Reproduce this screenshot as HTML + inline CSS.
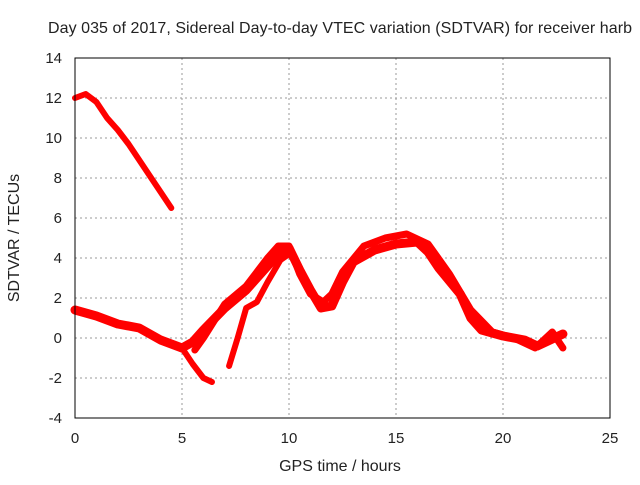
<!DOCTYPE html>
<html><head><meta charset="utf-8"><style>
body{margin:0;background:#fff}
text{font-family:"Liberation Sans",sans-serif;font-size:15px;fill:#222}
.big{font-size:16px}
</style></head><body>
<svg id="c" width="640" height="480">
<rect width="640" height="480" fill="#fff"/>
<text class="big" x="340" y="33" text-anchor="middle" textLength="584">Day 035 of 2017, Sidereal Day-to-day VTEC variation (SDTVAR) for receiver harb</text>
<text class="big" x="340" y="471" text-anchor="middle">GPS time / hours</text>
<text class="big" transform="translate(19,238) rotate(-90)" text-anchor="middle">SDTVAR / TECUs</text>
<g id="grid"></g><g id="series"></g>
<rect x="75" y="58" width="535" height="360" fill="none" stroke="#000"/>
</svg>
<script>
const xTicks=[0,5,10,15,20,25];
const yTicks=[-4,-2,0,2,4,6,8,10,12,14];
const seriesHigh=[[0,12],[0.5,12.2],[1,11.8],[1.5,11],[2,10.4],[2.5,9.7],[3,8.9],[3.5,8.1],[4,7.3],[4.5,6.5]];
const seriesMain=[[0,1.4],[1,1.1],[2,0.7],[3,0.5],[4,-0.1],[5,-0.5],[5.5,-0.2],[6,0.4],[7,1.5],[8,2.4],[9,3.6],[9.6,4.3],[10,4.5],[10.5,3.4],[11,2.4],[11.5,1.5],[12,1.6],[12.5,2.8],[13,3.8],[14,4.4],[15,4.7],[16,4.8],[16.5,4.3],[17,3.5],[18,2.2],[18.5,1.0],[19,0.4],[20,0.1],[21,-0.1],[21.6,-0.4],[22.2,-0.1],[22.8,0.2]];
const seriesUpper=[[5.6,-0.6],[6,0],[7,1.7],[8,2.6],[9,4.0],[9.5,4.6],[10,4.6],[10.5,3.2],[11,2.2],[11.6,1.8],[12,2.2],[12.5,3.3],[13.5,4.6],[14.5,5.0],[15.5,5.2],[16.5,4.7],[17.5,3.2],[18.5,1.4],[19.5,0.3],[20.5,0],[21.5,-0.5],[22.3,0.3],[22.8,-0.5]];
const seriesLow=[[5,-0.5],[5.5,-1.3],[6,-2.0],[6.4,-2.2]];
const seriesRise=[[7.2,-1.4],[7.6,0],[8,1.5],[8.5,1.8],[9,2.8],[9.6,3.9],[10,4.2]];
const X=h=>75+h*535/25, Y=v=>338-v*20;
const ns="http://www.w3.org/2000/svg";
const g=document.getElementById('grid'), s=document.getElementById('series');
xTicks.forEach(t=>{
 const l=document.createElementNS(ns,'line');
 
 
 l.setAttribute('x1',X(t));l.setAttribute('x2',X(t));l.setAttribute('y1',58);l.setAttribute('y2',418);
 l.setAttribute('stroke','#999');l.setAttribute('stroke-dasharray','2,3');g.appendChild(l);
 const tx=document.createElementNS(ns,'text');
 
 
 tx.setAttribute('x',X(t));tx.setAttribute('y',443);tx.setAttribute('text-anchor','middle');tx.textContent=t;g.appendChild(tx);
});
yTicks.forEach(t=>{
 const l=document.createElementNS(ns,'line');
 
 
 l.setAttribute('x1',75);l.setAttribute('x2',610);l.setAttribute('y1',Y(t));l.setAttribute('y2',Y(t));
 l.setAttribute('stroke','#999');l.setAttribute('stroke-dasharray','2,3');g.appendChild(l);
 const tx=document.createElementNS(ns,'text');
 
 
 tx.setAttribute('x',62);tx.setAttribute('y',Y(t)+5);tx.setAttribute('text-anchor','end');tx.textContent=t;g.appendChild(tx);
});
function draw(d,name,w){
 const p=document.createElementNS(ns,'polyline');
 
 
 p.setAttribute('points',d.map(q=>X(q[0])+','+Y(q[1])).join(' '));
 p.setAttribute('fill','none');p.setAttribute('stroke','#f00');p.setAttribute('stroke-width',w);
 p.setAttribute('stroke-linejoin','round');p.setAttribute('stroke-linecap','round');s.appendChild(p);
}
draw(seriesHigh,'series-high',6);
draw(seriesMain,'series-main',9);
draw(seriesUpper,'series-upper',7);
draw(seriesLow,'series-low',6);
draw(seriesRise,'series-rise',6);
</script>
</body></html>
